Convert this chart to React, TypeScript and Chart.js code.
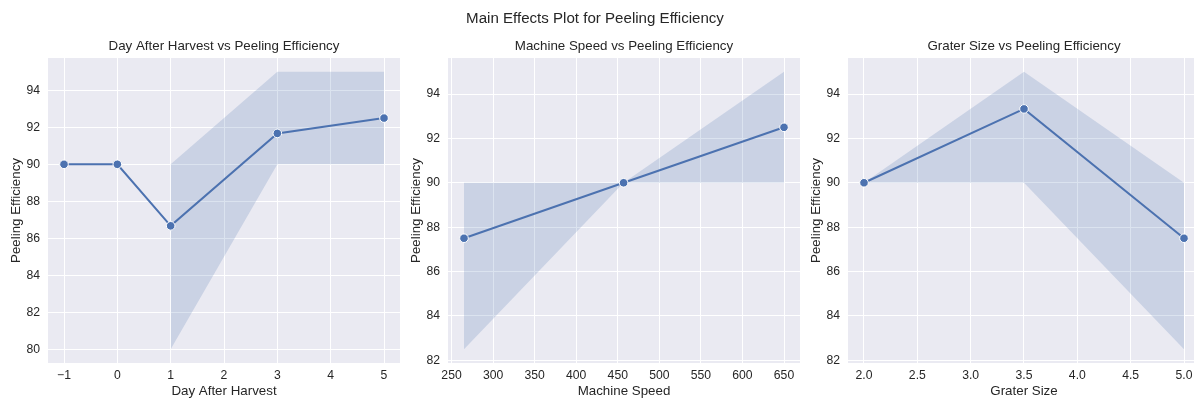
import React, { useEffect, useRef } from "react";
import { Chart, registerables } from "chart.js";

Chart.register(...registerables);

// ---- Data ----
const dayX = [-1, 0, 1, 3, 5];
const dayMean = [90, 90, 86.67, 91.67, 92.5];
const dayLow: (number | null)[] = [null, null, 80, 90, 90];
const dayHigh: (number | null)[] = [null, null, 90, 95, 95];
const dayXTicks = [-1, 0, 1, 2, 3, 4, 5];
const dayYTicks = [80, 82, 84, 86, 88, 90, 92, 94];

const speedX = [265, 457, 650];
const speedMean = [87.5, 90, 92.5];
const speedLow: (number | null)[] = [82.5, 90, 90];
const speedHigh: (number | null)[] = [90, 90, 95];
const speedXTicks = [250, 300, 350, 400, 450, 500, 550, 600, 650];
const speedYTicks = [82, 84, 86, 88, 90, 92, 94];

const graterX = [2, 3.5, 5];
const graterMean = [90, 93.33, 87.5];
const graterLow: (number | null)[] = [90, 90, 82.5];
const graterHigh: (number | null)[] = [90, 95, 90];
const graterXTicks = [2, 2.5, 3, 3.5, 4, 4.5, 5];
const graterYTicks = [82, 84, 86, 88, 90, 92, 94];

const SUPTITLE = "Main Effects Plot for Peeling Efficiency";
const Y_LABEL = "Peeling Efficiency";

// ---- Styles ----
const BLUE = "#4C72B0";
const BAND = "rgba(76,114,176,0.2)";
const FACE = "#EAEAF2";
const TEXT = "#262626";
const FONT = "'Liberation Sans', Arial, Helvetica, sans-serif";

const bgPlugin = {
  id: "axesBg",
  beforeDraw(chart: any) {
    const { ctx, chartArea } = chart;
    if (!chartArea) return;
    ctx.save();
    ctx.fillStyle = FACE;
    ctx.fillRect(
      chartArea.left,
      chartArea.top,
      chartArea.right - chartArea.left,
      chartArea.bottom - chartArea.top
    );
    ctx.restore();
  },
};

function fmtTick(v: number, decimals: number) {
  const s = Math.abs(v).toFixed(decimals);
  return v < 0 ? "\u2212" + s : s;
}

type PanelProps = {
  left: number;
  title: string;
  xLabel: string;
  xs: number[];
  mean: number[];
  low: (number | null)[];
  high: (number | null)[];
  xTicks: number[];
  yTicks: number[];
  decimals: number;
};

function Panel(p: PanelProps) {
  const ref = useRef<HTMLCanvasElement | null>(null);
  useEffect(() => {
    if (!ref.current) return;
    const lows = p.low.filter((v) => v !== null) as number[];
    const highs = p.high.filter((v) => v !== null) as number[];
    const xMinD = Math.min(...p.xs);
    const xMaxD = Math.max(...p.xs);
    const xm = (xMaxD - xMinD) * 0.05;
    const yMinD = Math.min(...lows, ...p.mean);
    const yMaxD = Math.max(...highs, ...p.mean);
    const ym = (yMaxD - yMinD) * 0.05;
    const pts = (ys: (number | null)[]) => p.xs.map((x, i) => ({ x, y: ys[i] }));
    const chart = new Chart(ref.current, {
      type: "line",
      data: {
        datasets: [
          {
            data: pts(p.mean),
            borderColor: BLUE,
            borderWidth: 2,
            pointRadius: 4.3,
            pointHoverRadius: 4.3,
            pointBackgroundColor: BLUE,
            pointBorderColor: "#ffffff",
            pointBorderWidth: 1,
            fill: false,
            order: 0,
          },
          {
            data: pts(p.high),
            borderWidth: 0,
            borderColor: "rgba(0,0,0,0)",
            pointRadius: 0,
            backgroundColor: BAND,
            fill: "+1",
            spanGaps: false,
            order: 1,
          },
          {
            data: pts(p.low),
            borderWidth: 0,
            borderColor: "rgba(0,0,0,0)",
            pointRadius: 0,
            fill: false,
            spanGaps: false,
            order: 1,
          },
        ],
      },
      options: {
        animation: false,
        responsive: false,
        maintainAspectRatio: false,
        events: [],
        layout: { padding: 0, autoPadding: false },
        plugins: {
          legend: { display: false },
          tooltip: { enabled: false },
          title: {
            display: true,
            text: p.title,
            color: TEXT,
            fullSize: false,
            font: { family: FONT, size: 13.33, weight: "normal", lineHeight: 1.2 },
            padding: { top: 38, bottom: 4 },
          },
        },
        scales: {
          x: {
            type: "linear",
            min: xMinD - xm,
            max: xMaxD + xm,
            grid: { color: "#ffffff", lineWidth: 1, drawTicks: false },
            border: { display: false },
            afterBuildTicks: (s: any) => {
              s.ticks = p.xTicks.map((v) => ({ value: v }));
            },
            afterFit: (s: any) => {
              s.height = 36;
              s.paddingLeft = 0;
              s.paddingRight = 0;
            },
            ticks: {
              color: TEXT,
              padding: 5,
              maxRotation: 0,
              autoSkip: false,
              font: { family: FONT, size: 12.2 },
              callback: (v: any) => fmtTick(Number(v), p.decimals),
            },
            title: {
              display: true,
              text: p.xLabel,
              color: TEXT,
              font: { family: FONT, size: 13.33, lineHeight: 1.2 },
              padding: { top: 0, bottom: 0 },
            },
          },
          y: {
            type: "linear",
            min: yMinD - ym,
            max: yMaxD + ym,
            grid: { color: "#ffffff", lineWidth: 1, drawTicks: false },
            border: { display: false },
            afterBuildTicks: (s: any) => {
              s.ticks = p.yTicks.map((v) => ({ value: v }));
            },
            afterFit: (s: any) => {
              s.width = 48;
              s.paddingTop = 0;
              s.paddingBottom = 0;
            },
            ticks: {
              color: TEXT,
              padding: 8,
              autoSkip: false,
              font: { family: FONT, size: 12.2 },
              callback: (v: any) => fmtTick(Number(v), 0),
            },
            title: {
              display: true,
              text: Y_LABEL,
              color: TEXT,
              font: { family: FONT, size: 13.33, lineHeight: 1.2 },
              padding: { top: 8, bottom: 0 },
            },
          },
        },
      },
      plugins: [bgPlugin],
    } as any);
    return () => chart.destroy();
  }, []);
  return (
    <canvas
      ref={ref}
      width={400}
      height={399}
      style={{ position: "absolute", left: p.left, top: 0, width: 400, height: 399 }}
    />
  );
}

export default function App() {
  return (
    <div
      style={{
        position: "fixed",
        left: 0,
        top: 0,
        width: 1194,
        height: 399,
        overflow: "hidden",
        background: "#ffffff",
      }}
    >
      <Panel
        left={0}
        title="Day After Harvest vs Peeling Efficiency"
        xLabel="Day After Harvest"
        xs={dayX}
        mean={dayMean}
        low={dayLow}
        high={dayHigh}
        xTicks={dayXTicks}
        yTicks={dayYTicks}
        decimals={0}
      />
      <Panel
        left={400}
        title="Machine Speed vs Peeling Efficiency"
        xLabel="Machine Speed"
        xs={speedX}
        mean={speedMean}
        low={speedLow}
        high={speedHigh}
        xTicks={speedXTicks}
        yTicks={speedYTicks}
        decimals={0}
      />
      <Panel
        left={800}
        title="Grater Size vs Peeling Efficiency"
        xLabel="Grater Size"
        xs={graterX}
        mean={graterMean}
        low={graterLow}
        high={graterHigh}
        xTicks={graterXTicks}
        yTicks={graterYTicks}
        decimals={1}
      />
      <div
        style={{
          position: "absolute",
          left: 0,
          top: 8,
          width: 1190,
          textAlign: "center",
          fontFamily: FONT,
          fontSize: 15.1,
          lineHeight: "20px",
          color: TEXT,
        }}
      >
        {SUPTITLE}
      </div>
    </div>
  );
}
